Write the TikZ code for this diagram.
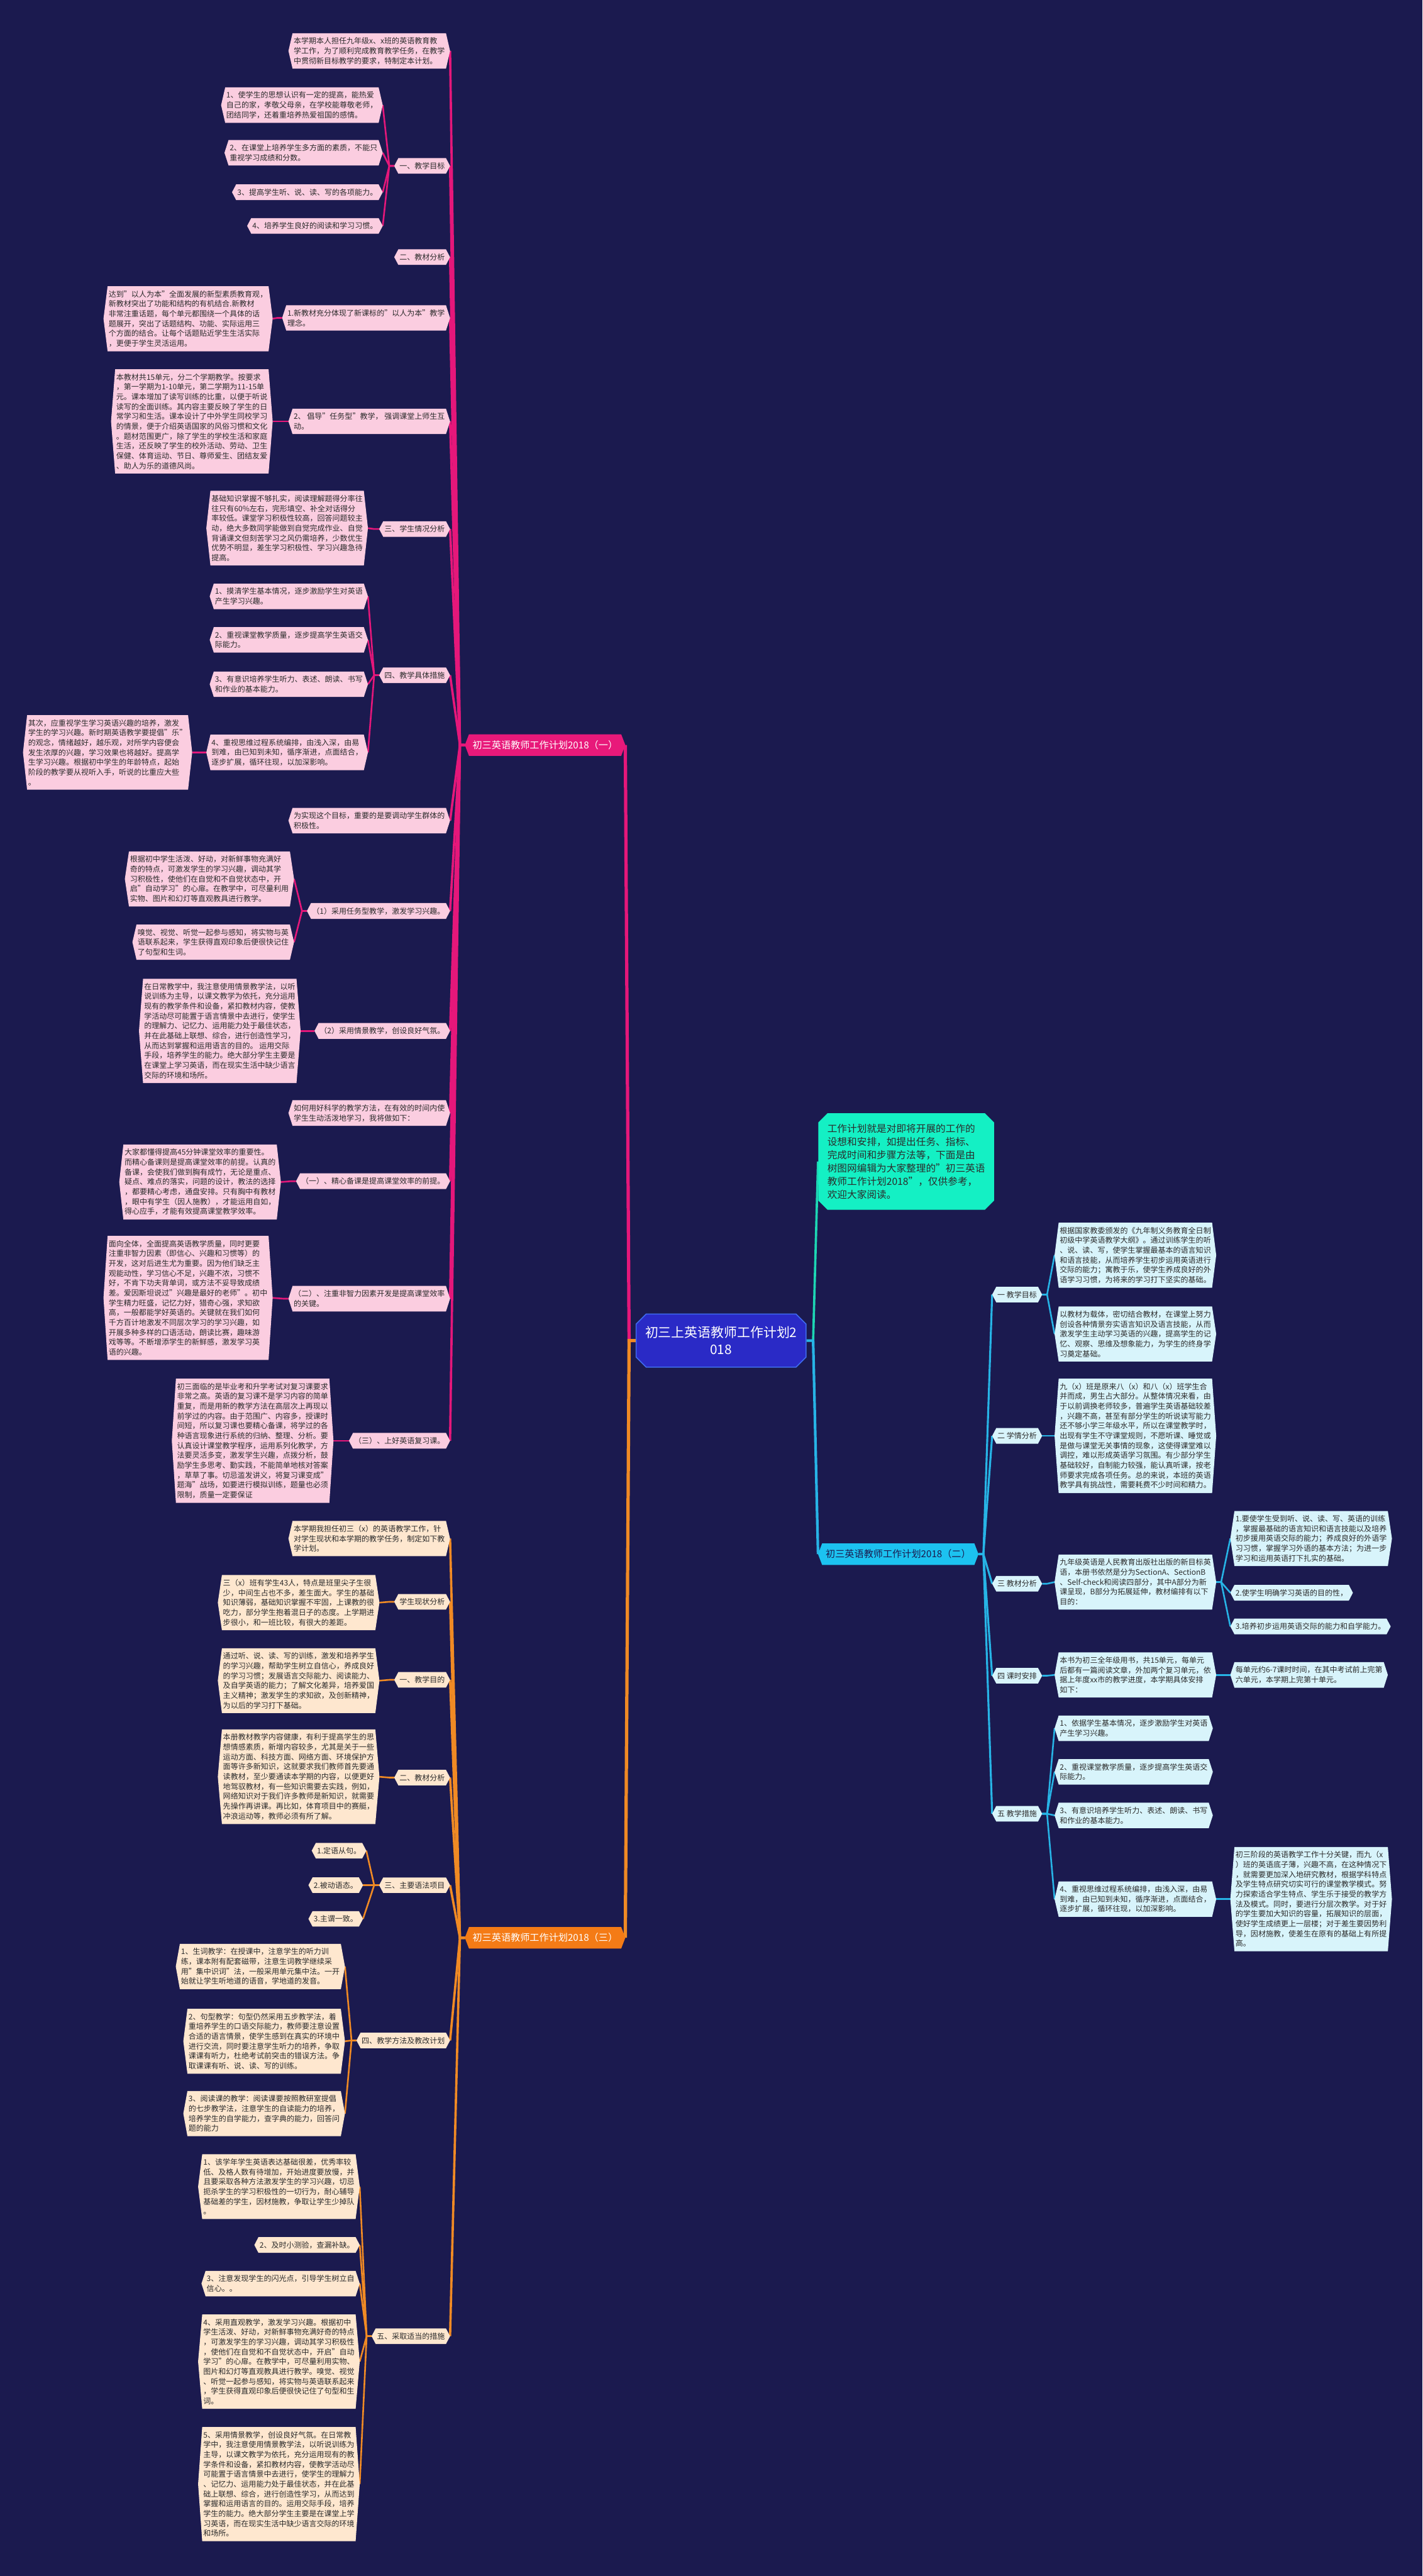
\documentclass[tikz,border=0pt]{standalone}
\usepackage{fontspec}
\setmainfont{Noto Sans CJK SC}
\usetikzlibrary{backgrounds, shapes.misc}

\definecolor{bg_navy}{HTML}{1B1A4F}
\definecolor{pink_line}{HTML}{E5177A}
\definecolor{pink_fill}{HTML}{FBCDE0}
\definecolor{pink_main}{HTML}{E8197A}
\definecolor{orange_line}{HTML}{F08A24}
\definecolor{orange_fill}{HTML}{FEE7CF}
\definecolor{orange_main}{HTML}{F47B16}
\definecolor{blue_line}{HTML}{27B4E6}
\definecolor{blue_fill}{HTML}{D8F4FB}
\definecolor{blue_main}{HTML}{1CC2F0}
\definecolor{teal_line}{HTML}{1DD6B4}
\definecolor{teal_fill}{HTML}{14F0C4}
\definecolor{center_fill}{HTML}{2A2AC6}
\definecolor{center_rim}{HTML}{3F6BF0}
\definecolor{leaf_text}{HTML}{2B2B2B}

\newcommand{\leaffont}{\fontsize{4.6}{6}\selectfont}
% pointed box drawn behind a node
\newcommand{\hexfill}[2]{\fill[#1] ([xshift=2.5pt]#2.north west) -- ([xshift=-2.5pt]#2.north east) -- (#2.east) -- ([xshift=-2.5pt]#2.south east) -- ([xshift=2.5pt]#2.south west) -- (#2.west) -- cycle;}

\begin{document}
\begin{tikzpicture}[
    x=1pt, y=-1pt,
    leaf/.style={inner xsep=3pt, inner ysep=2.4pt, align=left, font=\leaffont, text=leaf_text},
    leaf_l/.style={leaf, anchor=east},
    leaf_r/.style={leaf, anchor=west},
    branch/.style={inner xsep=4.5pt, inner ysep=3.6pt, font=\fontsize{5.8}{7}\selectfont},
    line_pink/.style={draw=pink_line, line width=1pt},
    line_orange/.style={draw=orange_line, line width=1pt},
    line_blue/.style={draw=blue_line, line width=1pt}
]
% centre and intro
\node[chamfered rectangle, chamfered rectangle xsep=2.5pt, fill=center_fill, draw=center_rim, line width=0.6pt,
      text=white, align=center, inner xsep=3pt, inner ysep=4pt, font=\fontsize{8}{10.3}\selectfont] (plan) at (439,816) {初三上英语教师工作计划2\\018};
\node[chamfered rectangle, chamfered rectangle xsep=2pt, fill=teal_fill, text=leaf_text, align=left,
      inner xsep=3.5pt, inner ysep=3pt, font=\fontsize{6}{8}\selectfont, anchor=west] (intro) at (498,707) {工作计划就是对即将开展的工作的\\设想和安排，如提出任务、指标、\\完成时间和步骤方法等，下面是由\\树图网编辑为大家整理的"初三英语\\教师工作计划2018"，仅供参考，\\欢迎大家阅读。};

\node[branch, text=white, anchor=west] (plan_a) at (283,453.5) {初三英语教师工作计划2018（一）};
\node[branch, text=bg_navy, anchor=west] (plan_b) at (498,946) {初三英语教师工作计划2018（二）};
\node[branch, text=white, anchor=west] (plan_c) at (283,1179.5) {初三英语教师工作计划2018（三）};

% plan (一)
\node[leaf_l] (p_intro) at (274,31) {本学期本人担任九年级x、x班的英语教育教\\学工作，为了顺利完成教育教学任务，在教学\\中贯彻新目标教学的要求，特制定本计划。};
\node[leaf_l] (p_goal) at (274,101) {一、教学目标};
\node[leaf_l] (p_goal1) at (233,64) {1、使学生的思想认识有一定的提高，能热爱\\自己的家，孝敬父母亲，在学校能尊敬老师，\\团结同学，还着重培养热爱祖国的感情。};
\node[leaf_l] (p_goal2) at (233,93) {2、在课堂上培养学生多方面的素质，不能只\\重视学习成绩和分数。};
\node[leaf_l] (p_goal3) at (233,117) {3、提高学生听、说、读、写的各项能力。};
\node[leaf_l] (p_goal4) at (233,137.5) {4、培养学生良好的阅读和学习习惯。};
\node[leaf_l] (p_text) at (274,156.5) {二、教材分析};
\node[leaf_l] (p_new) at (274,193.5) {1.新教材充分体现了新课标的"以人为本"教学\\理念。};
\node[leaf_l] (p_new1) at (166,194) {达到"以人为本"全面发展的新型素质教育观，\\新教材突出了功能和结构的有机结合.新教材\\非常注重话题，每个单元都围绕一个具体的话\\题展开，突出了话题结构、功能、实际运用三\\个方面的结合。让每个话题贴近学生生活实际\\，更便于学生灵活运用。};
\node[leaf_l] (p_task) at (274,256.5) {2、 倡导"任务型"教学， 强调课堂上师生互\\动。};
\node[leaf_l] (p_task1) at (166,256.5) {本教材共15单元，分二个学期教学。按要求\\，第一学期为1-10单元，第二学期为11-15单\\元。课本增加了读写训练的比重，以便于听说\\读写的全面训练。其内容主要反映了学生的日\\常学习和生活。课本设计了中外学生同校学习\\的情景，便于介绍英语国家的风俗习惯和文化\\。题材范围更广，除了学生的学校生活和家庭\\生活，还反映了学生的校外活动、劳动、卫生\\保健、体育运动、节日、尊师爱生、团结友爱\\、助人为乐的道德风尚。};
\node[leaf_l] (p_stud) at (274,322) {三、学生情况分析};
\node[leaf_l] (p_stud1) at (224,321.5) {基础知识掌握不够扎实，阅读理解题得分率往\\往只有60\%左右，完形填空、补全对话得分\\率较低。课堂学习积极性较高，回答问题较主\\动，绝大多数同学能做到自觉完成作业、自觉\\背诵课文但刻苦学习之风仍需培养，少数优生\\优势不明显，差生学习积极性、学习兴趣急待\\提高。};
\node[leaf_l] (p_meas) at (274,411) {四、教学具体措施};
\node[leaf_l] (p_meas1) at (224,363) {1、摸清学生基本情况，逐步激励学生对英语\\产生学习兴趣。};
\node[leaf_l] (p_meas2) at (224,389.5) {2、重视课堂教学质量，逐步提高学生英语交\\际能力。};
\node[leaf_l] (p_meas3) at (224,416.5) {3、有意识培养学生听力、表述、朗读、书写\\和作业的基本能力。};
\node[leaf_l] (p_meas4) at (224,458) {4、重视思维过程系统编排，由浅入深，由易\\到难，由已知到未知，循序渐进，点面结合，\\逐步扩展，循环往现，以加深影响。};
\node[leaf_l] (p_meas41) at (117,458) {其次，应重视学生学习英语兴趣的培养，激发\\学生的学习兴趣。新时期英语教学要提倡"乐"\\的观念，情绪越好，越乐观，对所学内容便会\\发生浓厚的兴趣，学习效果也将越好。提高学\\生学习兴趣。根据初中学生的年龄特点，起始\\阶段的教学要从视听入手，听说的比重应大些\\。};
\node[leaf_l] (p_aim) at (274,499.5) {为实现这个目标，重要的是要调动学生群体的\\积极性。};
\node[leaf_l] (p_m1) at (274,554.5) {（1）采用任务型教学，激发学习兴趣。};
\node[leaf_l] (p_m11) at (179,535) {根据初中学生活泼、好动，对新鲜事物充满好\\奇的特点，可激发学生的学习兴趣，调动其学\\习积极性，使他们在自觉和不自觉状态中，开\\启"自动学习"的心扉。在教学中，可尽量利用\\实物、图片和幻灯等直观教具进行教学。};
\node[leaf_l] (p_m12) at (179,573.5) {嗅觉、视觉、听觉一起参与感知，将实物与英\\语联系起来，学生获得直观印象后便很快记住\\了句型和生词。};
\node[leaf_l] (p_m2) at (274,627.5) {（2）采用情景教学，创设良好气氛。};
\node[leaf_l] (p_m21) at (183,627.5) {在日常教学中，我注意使用情景教学法，以听\\说训练为主导，以课文教学为依托，充分运用\\现有的教学条件和设备，紧扣教材内容，使教\\学活动尽可能置于语言情景中去进行，使学生\\的理解力、记忆力、运用能力处于最佳状态，\\并在此基础上联想、综合，进行创造性学习，\\从而达到掌握和运用语言的目的。 运用交际\\手段，培养学生的能力。绝大部分学生主要是\\在课堂上学习英语，而在现实生活中缺少语言\\交际的环境和场所。};
\node[leaf_l] (p_how) at (274,677.5) {如何用好科学的教学方法，在有效的时间内使\\学生生动活泼地学习，我将做如下：};
\node[leaf_l] (p_prep) at (274,719) {（一）、精心备课是提高课堂效率的前提。};
\node[leaf_l] (p_prep1) at (171,719.5) {大家都懂得提高45分钟课堂效率的重要性。\\而精心备课则是提高课堂效率的前提。认真的\\备课，会使我们做到胸有成竹，无论是重点、\\疑点、难点的落实，问题的设计，教法的选择\\，都要精心考虑，通盘安排。只有胸中有教材\\，眼中有学生（因人施教），才能运用自如，\\得心应手，才能有效提高课堂教学效率。};
\node[leaf_l] (p_nonint) at (274,790.5) {（二）、注重非智力因素开发是提高课堂效率\\的关键。};
\node[leaf_l] (p_nonint1) at (166,790) {面向全体，全面提高英语教学质量，同时更要\\注重非智力因素（即信心、兴趣和习惯等）的\\开发，这对后进生尤为重要。因为他们缺乏主\\观能动性，学习信心不足，兴趣不浓，习惯不\\好，不肯下功夫背单词，或方法不妥导致成绩\\差。爱因斯坦说过"兴趣是最好的老师"。初中\\学生精力旺盛，记忆力好，猎奇心强，求知欲\\高，一般都能学好英语的。关键就在我们如何\\千方百计地激发不同层次学习的学习兴趣，如\\开展多种多样的口语活动，朗读比赛，趣味游\\戏等等。不断增添学生的新鲜感，激发学习英\\语的兴趣。};
\node[leaf_l] (p_rev) at (274,877) {（三）、上好英语复习课。};
\node[leaf_l] (p_rev1) at (203,877) {初三面临的是毕业考和升学考试对复习课要求\\非常之高。英语的复习课不是学习内容的简单\\重复，而是用新的教学方法在高层次上再现以\\前学过的内容。由于范围广、内容多，授课时\\间短，所以复习课也要精心备课，将学过的各\\种语言现象进行系统的归纳、整理、分析。要\\认真设计课堂教学程序，运用系列化教学，方\\法要灵活多变，激发学生兴趣，点拨分析，鼓\\励学生多思考、勤实践，不能简单地核对答案\\，草草了事。切忌滥发讲义，将复习课变成"\\题海"战场，如要进行模拟训练，题量也必须\\限制，质量一定要保证};

% plan (三)
\node[leaf_l] (o_intro) at (274,936.5) {本学期我担任初三（x）的英语教学工作，针\\对学生现状和本学期的教学任务，制定如下教\\学计划。};
\node[leaf_l] (o_stat) at (274,975) {学生现状分析};
\node[leaf_l] (o_stat1) at (231,975.5) {三（x）班有学生43人，特点是班里尖子生很\\少，中间生占也不多，差生面大。学生的基础\\知识薄弱，基础知识掌握不牢固，上课教的很\\吃力，部分学生抱着混日子的态度。上学期进\\步很小，和一班比较，有很大的差距。};
\node[leaf_l] (o_aim) at (274,1022.5) {一、教学目的};
\node[leaf_l] (o_aim1) at (231,1023) {通过听、说、读、写的训练，激发和培养学生\\的学习兴趣，帮助学生树立自信心，养成良好\\的学习习惯；发展语言交际能力、阅读能力、\\及自学英语的能力；了解文化差异，培养爱国\\主义精神；激发学生的求知欲，及创新精神，\\为以后的学习打下基础。};
\node[leaf_l] (o_book) at (274,1082) {二、教材分析};
\node[leaf_l] (o_book1) at (231,1081.5) {本册教材教学内容健康，有利于提高学生的思\\想情感素质，新增内容较多，尤其是关于一些\\运动方面、科技方面、网络方面、环境保护方\\面等许多新知识，这就要求我们教师首先要通\\读教材，至少要通读本学期的内容，以便更好\\地驾驭教材，有一些知识需要去实践，例如，\\网络知识对于我们许多教师是新知识，就需要\\先操作再讲课。再比如，体育项目中的赛艇，\\冲浪运动等，教师必须有所了解。};
\node[leaf_l] (o_gram) at (274,1147.5) {三、主要语法项目};
\node[leaf_l] (o_gram1) at (223,1126.5) {1.定语从句。};
\node[leaf_l] (o_gram2) at (221,1147.5) {2.被动语态。};
\node[leaf_l] (o_gram3) at (221,1168) {3.主谓一致。};
\node[leaf_l] (o_meth) at (274,1242) {四、教学方法及教改计划};
\node[leaf_l] (o_meth1) at (210,1197) {1、生词教学：在授课中，注意学生的听力训\\练，课本附有配套磁带，注意生词教学继续采\\用"集中识词"法，一般采用单元集中法。一开\\始就让学生听地道的语音，学地道的发音。};
\node[leaf_l] (o_meth2) at (210,1242.5) {2、句型教学：句型仍然采用五步教学法，着\\重培养学生的口语交际能力，教师要注意设置\\合适的语言情景，使学生感到在真实的环境中\\进行交流，同时要注意学生听力的培养，争取\\课课有听力，杜绝考试前突击的错误方法。争\\取课课有听、说、读、写的训练。};
\node[leaf_l] (o_meth3) at (210,1286.5) {3、阅读课的教学：阅读课要按照教研室提倡\\的七步教学法，注意学生的自读能力的培养，\\培养学生的自学能力，查字典的能力，回答问\\题的能力};
\node[leaf_l] (o_step) at (274,1422) {五、采取适当的措施};
\node[leaf_l] (o_step1) at (219,1331) {1、该学年学生英语表达基础很差，优秀率较\\低、及格人数有待增加，开始进度要放慢，并\\且要采取各种方法激发学生的学习兴趣，切忌\\扼杀学生的学习积极性的一切行为，耐心辅导\\基础差的学生，因材施教，争取让学生少掉队\\。};
\node[leaf_l] (o_step2) at (219,1366.5) {2、及时小测验，查漏补缺。};
\node[leaf_l] (o_step3) at (219,1390) {3、注意发现学生的闪光点，引导学生树立自\\信心。。};
\node[leaf_l] (o_step4) at (219,1437.5) {4、采用直观教学，激发学习兴趣。根据初中\\学生活泼、好动，对新鲜事物充满好奇的特点\\，可激发学生的学习兴趣，调动其学习积极性\\，使他们在自觉和不自觉状态中，开启"自动\\学习"的心扉。在教学中，可尽量利用实物、\\图片和幻灯等直观教具进行教学。嗅觉、视觉\\、听觉一起参与感知，将实物与英语联系起来\\，学生获得直观印象后便很快记住了句型和生\\词。};
\node[leaf_l] (o_step5) at (219,1512) {5、采用情景教学，创设良好气氛。在日常教\\学中，我注意使用情景教学法，以听说训练为\\主导，以课文教学为依托，充分运用现有的教\\学条件和设备，紧扣教材内容，使教学活动尽\\可能置于语言情景中去进行，使学生的理解力\\、记忆力、运用能力处于最佳状态，并在此基\\础上联想、综合，进行创造性学习，从而达到\\掌握和运用语言的目的。运用交际手段，培养\\学生的能力。绝大部分学生主要是在课堂上学\\习英语，而在现实生活中缺少语言交际的环境\\和场所。};

% plan (二)
\node[leaf_r] (r_goal) at (604,788) {一 教学目标};
\node[leaf_r] (r_goal1) at (642,764) {根据国家教委颁发的《九年制义务教育全日制\\初级中学英语教学大纲》。通过训练学生的听\\、说、读、写，使学生掌握最基本的语言知识\\和语言技能，从而培养学生初步运用英语进行\\交际的能力；寓教于乐，使学生养成良好的外\\语学习习惯，为将来的学习打下坚实的基础。};
\node[leaf_r] (r_goal2) at (642,812) {以教材为载体，密切结合教材，在课堂上努力\\创设各种情景夯实语言知识及语言技能，从而\\激发学生主动学习英语的兴趣，提高学生的记\\忆、观察、思维及想象能力，为学生的终身学\\习奠定基础。};
\node[leaf_r] (r_stud) at (604,874) {二 学情分析};
\node[leaf_r] (r_stud1) at (642,874) {九（x）班是原来八（x）和八（x）班学生合\\并而成，男生占大部分。从整体情况来看，由\\于以前调换老师较多，普遍学生英语基础较差\\，兴趣不高，甚至有部分学生的听说读写能力\\还不够小学三年级水平，所以在课堂教学时，\\出现有学生不守课堂规则，不愿听课、睡觉或\\是做与课堂无关事情的现象，这使得课堂难以\\调控，难以形成英语学习氛围。有少部分学生\\基础较好，自制能力较强，能认真听课，按老\\师要求完成各项任务。总的来说，本班的英语\\教学具有挑战性，需要耗费不少时间和精力。};
\node[leaf_r] (r_book) at (604,964) {三 教材分析};
\node[leaf_r] (r_book1) at (642,963) {九年级英语是人民教育出版社出版的新目标英\\语，本册书依然是分为SectionA、SectionB\\、Self-check和阅读四部分，其中A部分为新\\课呈现，B部分为拓展延伸，教材编排有以下\\目的：};
\node[leaf_r] (r_book11) at (749,936.5) {1.要使学生受到听、说、读、写、英语的训练\\，掌握最基础的语言知识和语言技能以及培养\\初步援用英语交际的能力；养成良好的外语学\\习习惯，掌握学习外语的基本方法；为进一步\\学习和运用英语打下扎实的基础。};
\node[leaf_r] (r_book12) at (749,969.5) {2.使学生明确学习英语的目的性，};
\node[leaf_r] (r_book13) at (749,990) {3.培养初步运用英语交际的能力和自学能力。};
\node[leaf_r] (r_hour) at (604,1020) {四 课时安排};
\node[leaf_r] (r_hour1) at (642,1019.5) {本书为初三全年级用书，共15单元，每单元\\后都有一篇阅读文章，外加两个复习单元，依\\据上年度xx市的教学进度，本学期具体安排\\如下：};
\node[leaf_r] (r_hour11) at (749,1019.5) {每单元约6-7课时时间，在其中考试前上完第\\六单元，本学期上完第十单元。};
\node[leaf_r] (r_meas) at (604,1104) {五 教学措施};
\node[leaf_r] (r_meas1) at (642,1052) {1、依据学生基本情况，逐步激励学生对英语\\产生学习兴趣。};
\node[leaf_r] (r_meas2) at (642,1078.5) {2、重视课堂教学质量，逐步提高学生英语交\\际能力。};
\node[leaf_r] (r_meas3) at (642,1105) {3、有意识培养学生听力、表述、朗读、书写\\和作业的基本能力。};
\node[leaf_r] (r_meas4) at (642,1156) {4、重视思维过程系统编排，由浅入深，由易\\到难，由已知到未知，循序渐进，点面结合，\\逐步扩展，循环往现，以加深影响。};
\node[leaf_r] (r_meas41) at (749,1156) {初三阶段的英语教学工作十分关键，而九（x\\）班的英语底子薄，兴趣不高，在这种情况下\\，就需要更加深入地研究教材，根据学科特点\\及学生特点研究切实可行的课堂教学模式。努\\力探索适合学生特点、学生乐于接受的教学方\\法及模式。同时，要进行分层次教学。对于好\\的学生要加大知识的容量，拓展知识的层面，\\使好学生成绩更上一层楼；对于差生要因势利\\导，因材施教，使差生在原有的基础上有所提\\高。};

\begin{scope}[on background layer]
\fill[bg_navy] (0,0) rectangle (866,1568);
% trunk lines
\draw[line_pink, line width=2pt] (plan.west) -- ++(-4,0) -- (plan_a.east);
\draw[line_orange, line width=2pt] (plan.west) -- ++(-4,0) -- (plan_c.east);
\draw[draw=teal_line, line width=1.4pt] (plan.east) -- ++(4,0) -- (intro.west);
\draw[line_blue, line width=1.6pt] (plan.east) -- ++(4,0) -- (plan_b.west);
% branch lines
\foreach \s in {p_intro,p_goal,p_text,p_new,p_task,p_stud,p_meas,p_aim,p_m1,p_m2,p_how,p_prep,p_nonint,p_rev}
  {\draw[line_pink, line width=1.4pt] (plan_a.west) -- ++(-3,0) -- (\s.east);}
\foreach \s/\c in {p_goal/p_goal1,p_goal/p_goal2,p_goal/p_goal3,p_goal/p_goal4,p_new/p_new1,p_task/p_task1,p_stud/p_stud1,p_meas/p_meas1,p_meas/p_meas2,p_meas/p_meas3,p_meas/p_meas4,p_meas4/p_meas41,p_m1/p_m11,p_m1/p_m12,p_m2/p_m21,p_prep/p_prep1,p_nonint/p_nonint1,p_rev/p_rev1}
  {\draw[line_pink] (\s.west) -- ++(-3,0) -- (\c.east);}
\foreach \s in {o_intro,o_stat,o_aim,o_book,o_gram,o_meth,o_step}
  {\draw[line_orange, line width=1.4pt] (plan_c.west) -- ++(-3,0) -- (\s.east);}
\foreach \s/\c in {o_stat/o_stat1,o_aim/o_aim1,o_book/o_book1,o_gram/o_gram1,o_gram/o_gram2,o_gram/o_gram3,o_meth/o_meth1,o_meth/o_meth2,o_meth/o_meth3,o_step/o_step1,o_step/o_step2,o_step/o_step3,o_step/o_step4,o_step/o_step5}
  {\draw[line_orange] (\s.west) -- ++(-3,0) -- (\c.east);}
\foreach \s in {r_goal,r_stud,r_book,r_hour,r_meas}
  {\draw[line_blue, line width=1.2pt] (plan_b.east) -- ++(3,0) -- (\s.west);}
\foreach \s/\c in {r_goal/r_goal1,r_goal/r_goal2,r_stud/r_stud1,r_book/r_book1,r_book1/r_book11,r_book1/r_book12,r_book1/r_book13,r_hour/r_hour1,r_hour1/r_hour11,r_meas/r_meas1,r_meas/r_meas2,r_meas/r_meas3,r_meas/r_meas4,r_meas4/r_meas41}
  {\draw[line_blue] (\s.east) -- ++(3,0) -- (\c.west);}
% pointed boxes
\hexfill{pink_main}{plan_a}
\hexfill{orange_main}{plan_c}
\hexfill{blue_main}{plan_b}
\foreach \n in {p_intro,p_goal,p_goal1,p_goal2,p_goal3,p_goal4,p_text,p_new,p_new1,p_task,p_task1,p_stud,p_stud1,p_meas,p_meas1,p_meas2,p_meas3,p_meas4,p_meas41,p_aim,p_m1,p_m11,p_m12,p_m2,p_m21,p_how,p_prep,p_prep1,p_nonint,p_nonint1,p_rev,p_rev1}
  {\hexfill{pink_fill}{\n}}
\foreach \n in {o_intro,o_stat,o_stat1,o_aim,o_aim1,o_book,o_book1,o_gram,o_gram1,o_gram2,o_gram3,o_meth,o_meth1,o_meth2,o_meth3,o_step,o_step1,o_step2,o_step3,o_step4,o_step5}
  {\hexfill{orange_fill}{\n}}
\foreach \n in {r_goal,r_goal1,r_goal2,r_stud,r_stud1,r_book,r_book1,r_book11,r_book12,r_book13,r_hour,r_hour1,r_hour11,r_meas,r_meas1,r_meas2,r_meas3,r_meas4,r_meas41}
  {\hexfill{blue_fill}{\n}}
\end{scope}
\end{tikzpicture}
\end{document}
